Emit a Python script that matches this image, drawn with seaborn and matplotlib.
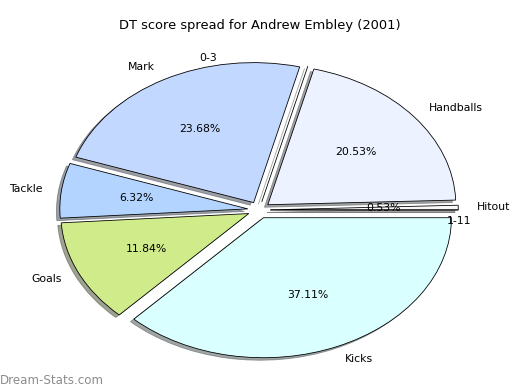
import matplotlib
matplotlib.use('Agg')
import matplotlib.pyplot as plt
import seaborn as sns

# DT score spread data (percent of total)
categories = ['Kicks', 'Goals', 'Tackle', 'Mark', '0-3', 'Handballs', 'Hitout', '1-11']
shares = [37.11, 11.84, 6.32, 23.68, 0.0, 20.53, 0.53, 0.0]
slice_colors = ['#DAFFFF', '#D0EC8A', '#B3D4FF', '#C3D8FF', '#C3D8FF', '#ECF2FF', '#F8F8F8', '#F8F8F8']

sns.set_style('white')
plt.rcParams['font.family'] = ['DejaVu Sans']
plt.rcParams['font.size'] = 12
plt.rcParams['text.color'] = 'black'


def pct_label(p):
    # hide labels of empty slices
    return '' if p < 0.01 else '%.2f%%' % p


fig = plt.figure(figsize=(8, 6), dpi=65)
ax = fig.add_axes([24 / 520, 5 / 390, 470 / 520, 350 / 390])

wedges, texts, autotexts = ax.pie(shares, labels=categories, colors=slice_colors,
                                  explode=[0.06] * len(shares), startangle=0,
                                  counterclock=False, shadow=True, autopct=pct_label,
                                  labeldistance=1.1, pctdistance=0.6,
                                  wedgeprops={'edgecolor': 'black', 'linewidth': 0.9},
                                  textprops={'fontsize': 12, 'color': 'black'})

# stretched (non-circular) pie like the original
ax.set_aspect('auto')
ax.set_xlim(-1.25, 1.25)
ax.set_ylim(-1.25, 1.25)
ax.axis('off')

# labels of the empty slices sit a bit off
texts[categories.index('0-3')].set_position((-0.223, 1.086))
texts[categories.index('0-3')].set_horizontalalignment('right')
texts[categories.index('1-11')].set_position((1.0, -0.079))
texts[categories.index('1-11')].set_horizontalalignment('left')

# Title and watermark
fig.text(0.5, 1 - 26 / 390, 'DT score spread for Andrew Embley (2001)',
         ha='center', va='center', fontsize=14.4, color='black')
fig.text(0.0, 1 - 380 / 390, 'Dream-Stats.com', ha='left', va='center',
         fontsize=13.2, color='#8c8c8c')

fig.savefig('out.png', dpi=65)
